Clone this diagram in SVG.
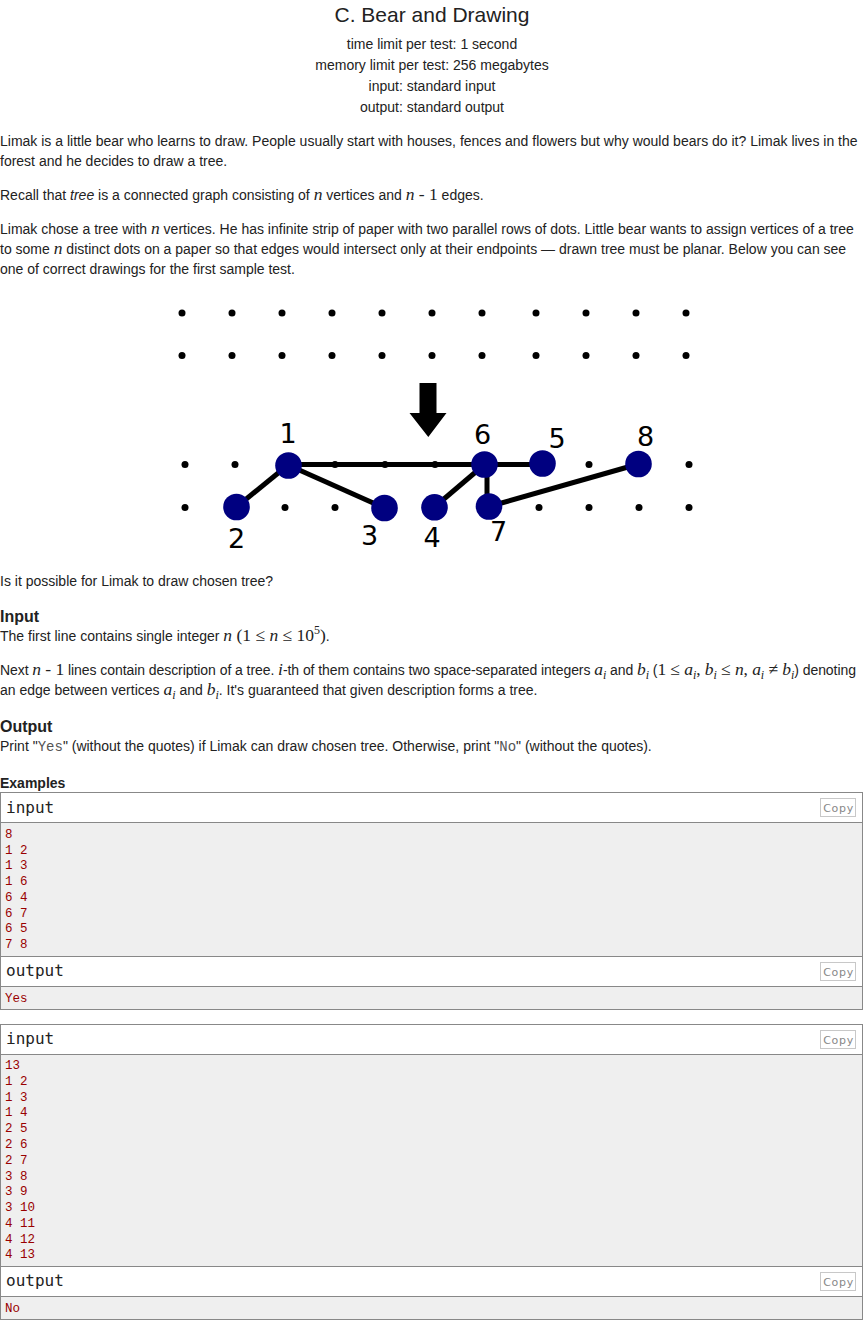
<svg xmlns="http://www.w3.org/2000/svg" width="864" height="1320" viewBox="0 0 864 1320">
<style>
text { font-family: "Liberation Sans", Arial, sans-serif; font-size: 14px; fill: #222; }
.title { font-size: 21px; }
.c { text-anchor: middle; }
.h { font-weight: bold; font-size: 16px; }
.hs { font-weight: bold; font-size: 14px; }
.m { font-family: "Liberation Serif", "Times New Roman", serif; font-size: 17.5px; }
.i { font-style: italic; }
.sub { font-size: 12px; }
.tt { font-family: "Liberation Mono", "Courier New", monospace; font-size: 14px; fill: #555; }
.lbl { font-family: "DejaVu Sans", sans-serif; font-size: 27px; fill: #000; text-anchor: middle; }
.dot { fill: #000; }
.node { fill: #000080; }
.edge { stroke: #000; stroke-width: 5; fill: none; }
.hdr { fill: #fff; }
.data { fill: #efefef; }
.frame { fill: none; stroke: #888; stroke-width: 1; }
.sep { stroke: #888; stroke-width: 1; }
.copyb { fill: #fff; stroke: #c8c8c8; stroke-width: 1; }
.copyt { font-family: "DejaVu Sans", sans-serif; font-size: 11px; fill: #888; text-anchor: middle; letter-spacing: 0.7px; }
.io { font-family: "DejaVu Sans Mono", "Liberation Mono", monospace; font-size: 16px; fill: #222; }
.pre { font-family: "Liberation Mono", "DejaVu Sans Mono", monospace; font-size: 12.5px; fill: #900; }
</style>
<rect x="0" y="0" width="864" height="1320" fill="#fff"/>

<g id="header">
<text class="title c" x="432" y="21.5">C. Bear and Drawing</text>
<text class="c" x="432" y="48.5">time limit per test: 1 second</text>
<text class="c" x="432" y="69.5">memory limit per test: 256 megabytes</text>
<text class="c" x="432" y="90.5">input: standard input</text>
<text class="c" x="432" y="111.5">output: standard output</text>
</g>

<g id="statement">
<text x="0" y="146">Limak is a little bear who learns to draw. People usually start with houses, fences and flowers but why would bears do it? Limak lives in the</text>
<text x="0" y="166">forest and he decides to draw a tree.</text>
<text x="0" y="200">Recall that <tspan class="i">tree</tspan> is a connected graph consisting of <tspan class="m i">n</tspan> vertices and <tspan class="m"><tspan class="i">n</tspan> - 1</tspan> edges.</text>
<text x="0" y="234">Limak chose a tree with <tspan class="m i">n</tspan> vertices. He has infinite strip of paper with two parallel rows of dots. Little bear wants to assign vertices of a tree</text>
<text x="0" y="254">to some <tspan class="m i">n</tspan> distinct dots on a paper so that edges would intersect only at their endpoints — drawn tree must be planar. Below you can see</text>
<text x="0" y="274">one of correct drawings for the first sample test.</text>
</g>

<g id="figure">
<g id="grid-dots">
<circle class="dot" cx="182" cy="313" r="3.5"/><circle class="dot" cx="232" cy="313" r="3.5"/><circle class="dot" cx="282" cy="313" r="3.5"/><circle class="dot" cx="332" cy="313" r="3.5"/><circle class="dot" cx="382" cy="313" r="3.5"/><circle class="dot" cx="432" cy="313" r="3.5"/><circle class="dot" cx="482" cy="313" r="3.5"/><circle class="dot" cx="536" cy="313" r="3.5"/><circle class="dot" cx="586" cy="313" r="3.5"/><circle class="dot" cx="636" cy="313" r="3.5"/><circle class="dot" cx="686" cy="313" r="3.5"/>
<circle class="dot" cx="182" cy="355.5" r="3.5"/><circle class="dot" cx="232" cy="355.5" r="3.5"/><circle class="dot" cx="282" cy="355.5" r="3.5"/><circle class="dot" cx="332" cy="355.5" r="3.5"/><circle class="dot" cx="382" cy="355.5" r="3.5"/><circle class="dot" cx="432" cy="355.5" r="3.5"/><circle class="dot" cx="482" cy="355.5" r="3.5"/><circle class="dot" cx="536" cy="355.5" r="3.5"/><circle class="dot" cx="586" cy="355.5" r="3.5"/><circle class="dot" cx="636" cy="355.5" r="3.5"/><circle class="dot" cx="686" cy="355.5" r="3.5"/>
</g>
<path id="arrow" d="M419.5,383 H436.5 V413 H446.5 L428.3,437 L409.5,413 H419.5 Z" fill="#000"/>
<g id="connectors">
<line class="edge" x1="288" y1="464.5" x2="542" y2="464.5"/>
<line class="edge" x1="288" y1="465" x2="236.5" y2="507"/>
<line class="edge" x1="288" y1="465" x2="384.5" y2="508"/>
<line class="edge" x1="484.5" y1="464.5" x2="434.5" y2="507"/>
<line class="edge" x1="487" y1="464.5" x2="487" y2="506.5"/>
<line class="edge" x1="489" y1="506.5" x2="638.5" y2="464"/>
</g>
<g id="row-dots">
<circle class="dot" cx="185" cy="464.5" r="3.5"/><circle class="dot" cx="235" cy="464.5" r="3.5"/><circle class="dot" cx="335" cy="464.5" r="3.5"/><circle class="dot" cx="385" cy="464.5" r="3.5"/><circle class="dot" cx="435" cy="464.5" r="3.5"/><circle class="dot" cx="589" cy="464.5" r="3.5"/><circle class="dot" cx="689" cy="464.5" r="3.5"/>
<circle class="dot" cx="185" cy="507.5" r="3.5"/><circle class="dot" cx="285" cy="507.5" r="3.5"/><circle class="dot" cx="335" cy="507.5" r="3.5"/><circle class="dot" cx="539" cy="507.5" r="3.5"/><circle class="dot" cx="589" cy="507.5" r="3.5"/><circle class="dot" cx="639" cy="507.5" r="3.5"/><circle class="dot" cx="689" cy="507.5" r="3.5"/>
</g>
<g id="node-1"><circle class="node" cx="288.5" cy="465.5" r="13.3"/><text class="lbl" x="288" y="443">1</text></g>
<g id="node-2"><circle class="node" cx="236.5" cy="507" r="13.3"/><text class="lbl" x="236.5" y="548">2</text></g>
<g id="node-3"><circle class="node" cx="384.5" cy="508" r="13.3"/><text class="lbl" x="369.5" y="545">3</text></g>
<g id="node-4"><circle class="node" cx="434.5" cy="507.3" r="13.3"/><text class="lbl" x="432" y="547">4</text></g>
<g id="node-5"><circle class="node" cx="542.5" cy="463.5" r="13.3"/><text class="lbl" x="557" y="447.5">5</text></g>
<g id="node-6"><circle class="node" cx="484.5" cy="464.5" r="13.3"/><text class="lbl" x="482.5" y="443.5">6</text></g>
<g id="node-7"><circle class="node" cx="489" cy="506.5" r="13.3"/><text class="lbl" x="498.5" y="541">7</text></g>
<g id="node-8"><circle class="node" cx="638.5" cy="464" r="13.3"/><text class="lbl" x="645.5" y="445.5">8</text></g>
</g>

<g id="statement-2">
<text x="0" y="586">Is it possible for Limak to draw chosen tree?</text>
<text class="h" x="0" y="622">Input</text>
<text x="0" y="641">The first line contains single integer <tspan class="m"><tspan class="i">n</tspan> (1 ≤ <tspan class="i">n</tspan> ≤ 10<tspan class="sub" dy="-7">5</tspan><tspan dy="7">)</tspan></tspan>.</text>
<text x="0" y="675" textLength="856" lengthAdjust="spacing">Next <tspan class="m"><tspan class="i">n</tspan> - 1</tspan> lines contain description of a tree. <tspan class="m i">i</tspan>-th of them contains two space-separated integers <tspan class="m i">a</tspan><tspan class="m i sub" dy="4">i</tspan><tspan dy="-4"> and </tspan><tspan class="m i">b</tspan><tspan class="m i sub" dy="4">i</tspan><tspan dy="-4"> (</tspan><tspan class="m">1 ≤ <tspan class="i">a</tspan></tspan><tspan class="m i sub" dy="4">i</tspan><tspan class="m" dy="-4">, <tspan class="i">b</tspan></tspan><tspan class="m i sub" dy="4">i</tspan><tspan class="m" dy="-4"> ≤ <tspan class="i">n</tspan>, <tspan class="i">a</tspan></tspan><tspan class="m i sub" dy="4">i</tspan><tspan class="m" dy="-4"> ≠ <tspan class="i">b</tspan></tspan><tspan class="m i sub" dy="4">i</tspan><tspan dy="-4">) denoting</tspan></text>
<text x="0" y="695">an edge between vertices <tspan class="m i">a</tspan><tspan class="m i sub" dy="4">i</tspan><tspan dy="-4"> and </tspan><tspan class="m i">b</tspan><tspan class="m i sub" dy="4">i</tspan><tspan dy="-4">. It's guaranteed that given description forms a tree.</tspan></text>
<text class="h" x="0" y="732">Output</text>
<text x="0" y="751">Print "<tspan class="tt">Yes</tspan>" (without the quotes) if Limak can draw chosen tree. Otherwise, print "<tspan class="tt">No</tspan>" (without the quotes).</text>
<text class="hs" x="0" y="788">Examples</text>
</g>

<g id="example-1">
<rect class="hdr" x="0.5" y="792.5" width="862" height="30"/>
<rect class="data" x="0.5" y="822.5" width="862" height="134"/>
<rect class="hdr" x="0.5" y="956.5" width="862" height="30"/>
<rect class="data" x="0.5" y="986.5" width="862" height="23"/>
<line class="sep" x1="0.5" y1="822.5" x2="862.5" y2="822.5"/>
<line class="sep" x1="0.5" y1="956.5" x2="862.5" y2="956.5"/>
<line class="sep" x1="0.5" y1="986.5" x2="862.5" y2="986.5"/>
<rect class="frame" x="0.5" y="792.5" width="862" height="217"/>
<text class="io" x="6" y="812.5">input</text>
<rect class="copyb" x="820.5" y="798.5" width="35" height="18"/><text class="copyt" x="838.5" y="811.5">Copy</text>
<text class="pre" x="5" y="838">8</text>
<text class="pre" x="5" y="853.7">1 2</text>
<text class="pre" x="5" y="869.4">1 3</text>
<text class="pre" x="5" y="885.1">1 6</text>
<text class="pre" x="5" y="900.8">6 4</text>
<text class="pre" x="5" y="916.5">6 7</text>
<text class="pre" x="5" y="932.2">6 5</text>
<text class="pre" x="5" y="947.9">7 8</text>
<text class="io" x="6" y="975.8">output</text>
<rect class="copyb" x="820.5" y="962.5" width="35" height="18"/><text class="copyt" x="838.5" y="975.5">Copy</text>
<text class="pre" x="5" y="1001.5">Yes</text>
</g>

<g id="example-2">
<rect class="hdr" x="0.5" y="1024.5" width="862" height="30"/>
<rect class="data" x="0.5" y="1054.5" width="862" height="212"/>
<rect class="hdr" x="0.5" y="1266.5" width="862" height="30"/>
<rect class="data" x="0.5" y="1296.5" width="862" height="23"/>
<line class="sep" x1="0.5" y1="1054.5" x2="862.5" y2="1054.5"/>
<line class="sep" x1="0.5" y1="1266.5" x2="862.5" y2="1266.5"/>
<line class="sep" x1="0.5" y1="1296.5" x2="862.5" y2="1296.5"/>
<rect class="frame" x="0.5" y="1024.5" width="862" height="295"/>
<text class="io" x="6" y="1044">input</text>
<rect class="copyb" x="820.5" y="1030.5" width="35" height="18"/><text class="copyt" x="838.5" y="1043.5">Copy</text>
<text class="pre" x="5" y="1069">13</text>
<text class="pre" x="5" y="1084.8">1 2</text>
<text class="pre" x="5" y="1100.5">1 3</text>
<text class="pre" x="5" y="1116.3">1 4</text>
<text class="pre" x="5" y="1132.1">2 5</text>
<text class="pre" x="5" y="1147.9">2 6</text>
<text class="pre" x="5" y="1163.7">2 7</text>
<text class="pre" x="5" y="1179.5">3 8</text>
<text class="pre" x="5" y="1195.2">3 9</text>
<text class="pre" x="5" y="1211">3 10</text>
<text class="pre" x="5" y="1226.8">4 11</text>
<text class="pre" x="5" y="1242.6">4 12</text>
<text class="pre" x="5" y="1258.3">4 13</text>
<text class="io" x="6" y="1286">output</text>
<rect class="copyb" x="820.5" y="1272.5" width="35" height="18"/><text class="copyt" x="838.5" y="1285.5">Copy</text>
<text class="pre" x="5" y="1311.5">No</text>
</g>
</svg>
